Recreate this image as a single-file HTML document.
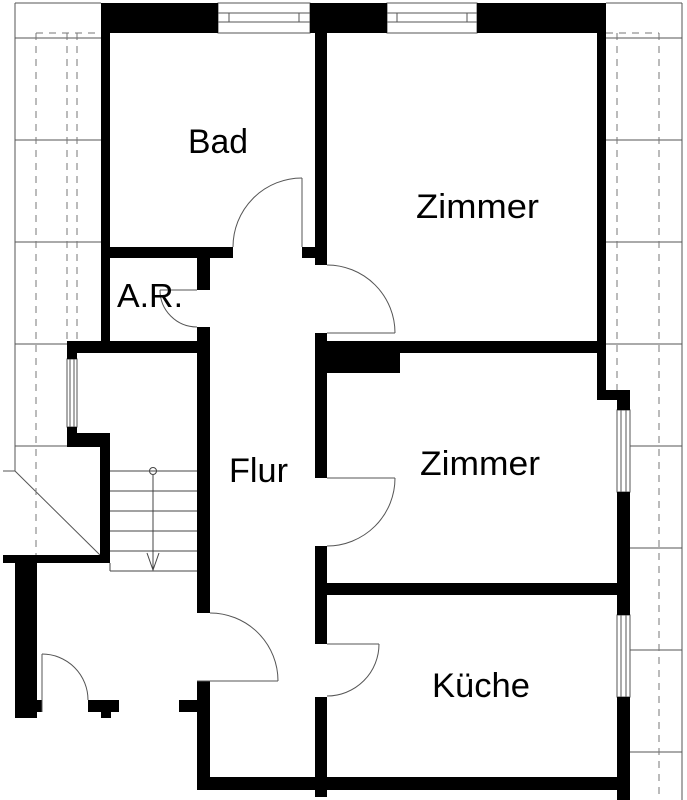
<!DOCTYPE html>
<html><head><meta charset="utf-8"><style>
html,body{margin:0;padding:0;background:#fff;}
svg{display:block;}
text{font-family:"Liberation Sans",sans-serif;fill:#000;}
</style></head><body>
<svg width="687" height="800" viewBox="0 0 687 800" xmlns="http://www.w3.org/2000/svg">
<g stroke="#555" stroke-width="1" fill="none">
<line x1="15" y1="3" x2="101" y2="3"/>
<line x1="15" y1="3" x2="15" y2="471"/>
<line x1="15" y1="38" x2="101" y2="38"/>
<line x1="15" y1="140" x2="101" y2="140"/>
<line x1="15" y1="242" x2="101" y2="242"/>
<line x1="15" y1="344" x2="67" y2="344"/>
<line x1="15" y1="446" x2="67" y2="446"/>
<line x1="3" y1="471" x2="15" y2="471"/>
<line x1="15" y1="471" x2="100" y2="555"/>
<line x1="606" y1="3" x2="682" y2="3"/>
<line x1="682" y1="3" x2="682" y2="800"/>
<line x1="606" y1="38" x2="682" y2="38"/>
<line x1="606" y1="140" x2="682" y2="140"/>
<line x1="606" y1="242" x2="682" y2="242"/>
<line x1="606" y1="344" x2="682" y2="344"/>
<line x1="630" y1="446" x2="682" y2="446"/>
<line x1="630" y1="548" x2="682" y2="548"/>
<line x1="630" y1="650" x2="682" y2="650"/>
<line x1="630" y1="752" x2="682" y2="752"/>
</g>
<g stroke="#777" stroke-width="1" fill="none" stroke-dasharray="7,6">
<line x1="36" y1="33" x2="101" y2="33"/>
<line x1="36" y1="33" x2="36" y2="555"/>
<line x1="67" y1="33" x2="67" y2="341"/>
<line x1="77" y1="33" x2="77" y2="341"/>
<line x1="606" y1="33" x2="659" y2="33"/>
<line x1="617" y1="33" x2="617" y2="390"/>
<line x1="659" y1="33" x2="659" y2="800"/>
</g>
<g stroke="#555" stroke-width="1" fill="none">
<rect x="218" y="3" width="92" height="30"/>
<line x1="218" y1="13" x2="310" y2="13"/><line x1="218" y1="22" x2="310" y2="22"/>
<line x1="229" y1="13" x2="229" y2="22"/><line x1="299" y1="13" x2="299" y2="22"/>
<rect x="387" y="3" width="90" height="30"/>
<line x1="387" y1="13" x2="477" y2="13"/><line x1="387" y1="22" x2="477" y2="22"/>
<line x1="397" y1="13" x2="397" y2="22"/><line x1="467" y1="13" x2="467" y2="22"/>
<rect x="67" y="359" width="10" height="68"/><line x1="70" y1="359" x2="70" y2="427"/><line x1="74" y1="359" x2="74" y2="427"/>
<rect x="617" y="410" width="13" height="82"/><line x1="621" y1="410" x2="621" y2="492"/><line x1="626" y1="410" x2="626" y2="492"/>
<rect x="617" y="615" width="13" height="82"/><line x1="621" y1="615" x2="621" y2="697"/><line x1="626" y1="615" x2="626" y2="697"/>
</g>
<g fill="#000">
<rect x="101" y="3" width="117" height="30"/>
<rect x="310" y="3" width="77" height="30"/>
<rect x="477" y="3" width="129" height="30"/>
<rect x="101" y="33" width="9" height="320"/>
<rect x="67" y="341" width="143" height="12"/>
<rect x="67" y="341" width="10" height="18"/>
<rect x="110" y="247" width="123" height="11"/>
<rect x="302" y="247" width="25" height="11"/>
<rect x="315" y="33" width="12" height="232"/>
<rect x="197" y="258" width="13" height="32"/>
<rect x="197" y="327" width="13" height="286"/>
<rect x="315" y="333" width="12" height="145"/>
<rect x="315" y="341" width="282" height="12"/>
<rect x="327" y="353" width="73" height="20"/>
<rect x="597" y="33" width="9" height="367"/>
<rect x="597" y="390" width="33" height="10"/>
<rect x="617" y="390" width="13" height="20"/>
<rect x="617" y="492" width="13" height="123"/>
<rect x="617" y="697" width="13" height="103"/>
<rect x="315" y="546" width="12" height="98"/>
<rect x="315" y="583" width="302" height="12"/>
<rect x="315" y="697" width="12" height="100"/>
<rect x="197" y="681" width="13" height="109"/>
<rect x="197" y="777" width="420" height="13"/>
<rect x="67" y="427" width="10" height="20"/>
<rect x="67" y="433" width="43" height="14"/>
<rect x="100" y="433" width="10" height="130"/>
<rect x="3" y="555" width="107" height="8"/>
<rect x="15" y="563" width="22" height="155"/>
<rect x="37" y="700" width="5" height="12"/>
<rect x="88" y="700" width="31" height="12"/>
<rect x="101" y="700" width="10" height="18"/>
<rect x="179" y="700" width="18" height="12"/>
</g>
<g stroke="#444" stroke-width="1" fill="none">
<line x1="110" y1="471" x2="197" y2="471"/>
<line x1="110" y1="491" x2="197" y2="491"/>
<line x1="110" y1="511" x2="197" y2="511"/>
<line x1="110" y1="531" x2="197" y2="531"/>
<line x1="110" y1="551" x2="197" y2="551"/>
<line x1="110" y1="571" x2="197" y2="571"/>
<line x1="110" y1="563" x2="110" y2="571"/>
<circle cx="153" cy="471" r="3.5"/>
<line x1="153" y1="475" x2="153" y2="570"/>
<polyline points="147,553 153,570 159,553"/>
</g>
<g stroke="#555" stroke-width="1" fill="none">
<line x1="302" y1="178" x2="302" y2="247"/><path d="M302 178 A69 69 0 0 0 233 247"/>
<line x1="160" y1="290" x2="197" y2="290"/><path d="M160 290 A37 37 0 0 0 197 327"/>
<line x1="327" y1="333" x2="395" y2="333"/><path d="M327 265 A68 68 0 0 1 395 333"/>
<line x1="327" y1="478" x2="395" y2="478"/><path d="M395 478 A68 68 0 0 1 327 546"/>
<line x1="327" y1="644" x2="379" y2="644"/><path d="M379 644 A52 52 0 0 1 327 696"/>
<line x1="197" y1="681" x2="278" y2="681"/><path d="M210 613 A68 68 0 0 1 278 681"/>
<line x1="42" y1="654" x2="42" y2="712"/><path d="M42 654 A46 46 0 0 1 88 700"/>
</g>
<text x="188" y="153" font-size="34" textLength="60" lengthAdjust="spacingAndGlyphs">Bad</text>
<text x="416" y="218" font-size="34" textLength="123" lengthAdjust="spacingAndGlyphs">Zimmer</text>
<text x="420" y="475" font-size="34" textLength="120" lengthAdjust="spacingAndGlyphs">Zimmer</text>
<text x="432" y="697" font-size="34" textLength="98" lengthAdjust="spacingAndGlyphs">Küche</text>
<text x="229" y="482" font-size="34" textLength="59" lengthAdjust="spacingAndGlyphs">Flur</text>
<text x="117" y="307" font-size="33" textLength="66" lengthAdjust="spacingAndGlyphs">A.R.</text>
</svg>
</body></html>
